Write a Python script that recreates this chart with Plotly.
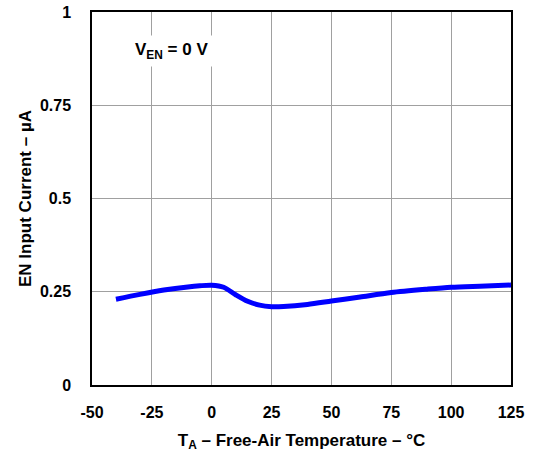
import plotly.graph_objects as go

temp_c = [-40, -30, -20, -10, -5, 0, 5, 10, 15, 20, 25, 30, 40, 50, 62, 75, 90, 100, 112, 125]
current_ua = [0.230, 0.243, 0.2545, 0.263, 0.266, 0.2675, 0.262, 0.242, 0.2245, 0.214, 0.210, 0.2105,
              0.216, 0.225, 0.236, 0.248, 0.257, 0.262, 0.265, 0.268]

x_ticks = [-50, -25, 0, 25, 50, 75, 100, 125]
x_tick_labels = ["-50", "-25", "0", "25", "50", "75", "100", "125"]
y_ticks = [0, 0.25, 0.5, 0.75, 1]
y_tick_labels = ["0", "0.25", "0.5", "0.75", "1"]

font_family = "Liberation Sans, Arial, sans-serif"

fig = go.Figure()
fig.add_trace(go.Scatter(
    x=temp_c, y=current_ua, mode="lines",
    line=dict(color="#0000FF", width=5, shape="spline", smoothing=0.8),
    showlegend=False, hoverinfo="skip",
))

fig.add_annotation(
    x=-17, y=0.895, xref="x", yref="y",
    text="<b>V<sub>EN</sub> = 0 V</b>", showarrow=False,
    font=dict(family=font_family, size=17, color="black"),
    bgcolor="white", borderpad=4,
)

axis_common = dict(
    showgrid=True, gridcolor="#A0A0A0", gridwidth=1,
    showline=True, linecolor="black", linewidth=1.5, mirror=True,
    zeroline=False, ticks="",
    tickfont=dict(family=font_family, size=16, color="black", weight="bold"),
)

fig.update_layout(
    width=541, height=459,
    margin=dict(l=92, r=30, t=12, b=74, autoexpand=False),
    paper_bgcolor="white", plot_bgcolor="white",
    xaxis=dict(
        range=[-50, 125], tickvals=x_ticks, ticktext=x_tick_labels,
        title=dict(text="<b>T<sub>A</sub> – Free-Air Temperature – °C</b>",
                   font=dict(family=font_family, size=17, color="black"), standoff=14),
        ticklabelstandoff=12,
        **axis_common,
    ),
    yaxis=dict(
        range=[0, 1], tickvals=y_ticks, ticktext=y_tick_labels,
        title=dict(text="<b>EN Input Current – µA</b>",
                   font=dict(family=font_family, size=17, color="black"), standoff=4),
        ticklabelstandoff=16,
        **axis_common,
    ),
)

fig.write_html("out.html", config={"displayModeBar": False},
               post_script="document.body.style.margin='0';document.body.style.padding='0';")
